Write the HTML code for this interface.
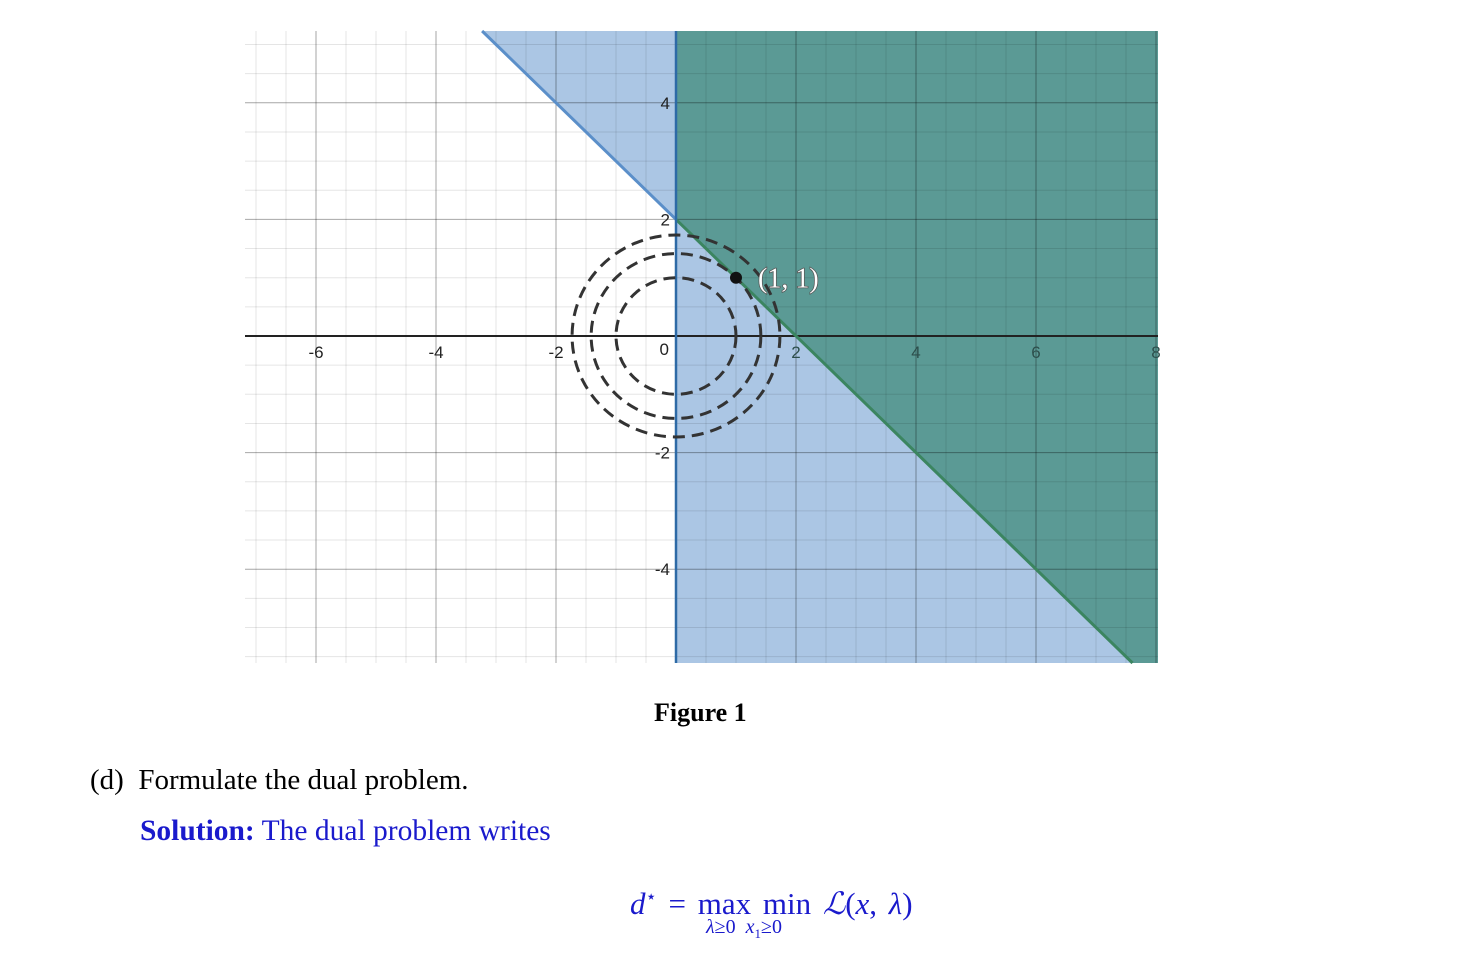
<!DOCTYPE html>
<html><head><meta charset="utf-8"><style>
body{margin:0;background:#fff;width:1474px;height:970px;overflow:hidden;position:relative;font-family:"Liberation Serif",serif}
.t{position:absolute;white-space:nowrap}
</style></head><body>
<svg id="chart" width="1474" height="680" style="position:absolute;left:0;top:0"></svg>
<div class="t" style="left:654px;top:698px;font-size:26px;font-weight:bold">Figure 1</div>
<div class="t" style="left:90px;top:764px;font-size:29px">(d)&nbsp; Formulate the dual problem.</div>
<div class="t" style="left:140px;top:815px;font-size:29.5px;color:#1a1acc"><b>Solution:</b> The dual problem writes</div>
<div class="t" style="left:630px;top:886px;font-size:31px;color:#1a1acc;word-spacing:4px"><i>d</i><sup style="font-size:18px">⋆</sup> = max&nbsp;min <i>ℒ</i>(<i>x</i>,&nbsp;<i>λ</i>)</div>
<div class="t" style="left:706px;top:916px;font-size:20px;color:#1a1acc"><i>λ</i>≥0&nbsp;&nbsp;<i>x</i><sub style="font-size:13px">1</sub>≥0</div>
<script>
const xTicks=[-6,-4,-2,2,4,6,8];
const yTicks=[-4,-2,2,4];
const lineCoef=[1,1,2]; // x + y = 2
const radii=[1,Math.SQRT2,Math.sqrt(3)];
const point=[1,1];
const L=245,R=1158,T=31,B=663,X0=676,Y0=336,SX=60,SY=58.3;
const xs=v=>X0+v*SX, ys=v=>Y0-v*SY;
const xmin=(L-X0)/SX,xmax=(R-X0)/SX,ymax=(Y0-T)/SY,ymin=(Y0-B)/SY;
const svg=document.getElementById('chart');
const NS='http://www.w3.org/2000/svg';
function mk(t,a,p){const e=document.createElementNS(NS,t);for(const k in a)e.setAttribute(k,a[k]);(p||svg).appendChild(e);return e;}
const c=lineCoef[2];
const yl=x=>c-x;
let p1=mk('polygon',{points:`${xs(c-ymax)},${T} ${xs(0)},${T} ${xs(0)},${ys(yl(0))}`,fill:'#abc6e4'});

let p2=mk('polygon',{points:`${xs(0)},${ys(yl(0))} ${xs(c-ymin)},${B} ${xs(0)},${B}`,fill:'#abc6e4'});

let p3=mk('polygon',{points:`${xs(0)},${T} ${R},${T} ${R},${B} ${xs(c-ymin)},${B} ${xs(0)},${ys(yl(0))}`,fill:'#5b9a95'});

// grid on top, translucent
for(let v=Math.ceil(xmin*2)/2;v<=xmax;v+=0.5){const major=Math.abs(v%2)<1e-9;const e=mk('line',{x1:xs(v),x2:xs(v),y1:T,y2:B,stroke:'#000','stroke-opacity':major?0.35:0.1,'stroke-width':1});}
for(let v=Math.ceil(ymin*2)/2;v<=ymax;v+=0.5){const major=Math.abs(v%2)<1e-9;const e=mk('line',{x1:L,x2:R,y1:ys(v),y2:ys(v),stroke:'#000','stroke-opacity':major?0.35:0.1,'stroke-width':1});}
let ax=mk('line',{x1:L,x2:R,y1:Y0,y2:Y0,stroke:'#222','stroke-width':2});
let l1=mk('line',{x1:xs(c-ymax),y1:T,x2:xs(0),y2:ys(yl(0)),stroke:'#5b8fc9','stroke-width':3});
let l2=mk('line',{x1:xs(0),y1:ys(yl(0)),x2:xs(c-ymin),y2:B,stroke:'#3b8560','stroke-width':3});
let l3=mk('line',{x1:X0,x2:X0,y1:T,y2:B,stroke:'#2e6aa6','stroke-width':2.5});
xTicks.forEach(v=>{const t=mk('text',{x:xs(v),y:Y0+22,'text-anchor':'middle','font-size':17,'font-family':'Liberation Sans,sans-serif',fill:v>0?'#2d4f4c':'#222'});t.textContent=v;});
yTicks.forEach(v=>{const t=mk('text',{x:X0-6,y:ys(v)+6,'text-anchor':'end','font-size':17,'font-family':'Liberation Sans,sans-serif',fill:'#222'});t.textContent=v;});
let z=mk('text',{x:X0-7,y:Y0+19,'text-anchor':'end','font-size':17,'font-family':'Liberation Sans,sans-serif',fill:'#222'});z.textContent='0';
radii.forEach(r=>{const e=mk('ellipse',{cx:X0,cy:Y0,rx:r*SX,ry:r*SY,fill:'none',stroke:'#333','stroke-width':3,'stroke-dasharray':'12 7'});});
let pt=mk('circle',{cx:xs(point[0]),cy:ys(point[1]),r:6,fill:'#111'});
let lab=mk('text',{x:xs(point[0])+22,y:ys(point[1])+10,'font-size':28,'font-family':'Liberation Serif,serif',fill:'#fff',stroke:'#555','stroke-width':1.5,'paint-order':'stroke'});lab.textContent='(1, 1)';
</script>
</body></html>
